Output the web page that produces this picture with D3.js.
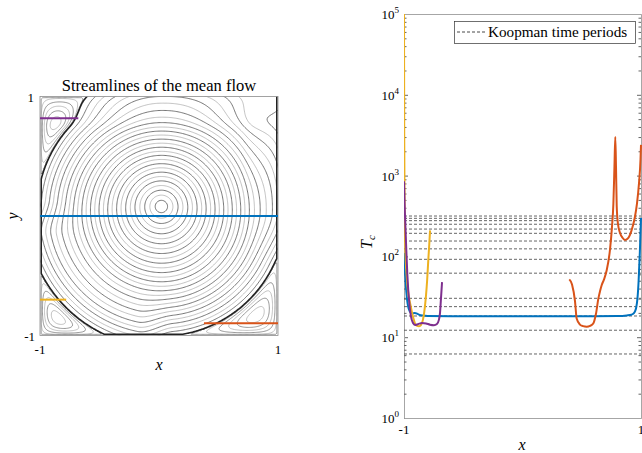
<!DOCTYPE html>
<html>
<head>
<meta charset="utf-8">
<script src="https://cdn.jsdelivr.net/npm/d3@7"></script>
<style>
body { margin: 0; background: #fff; }
text { font-family: "Liberation Serif", "Times New Roman", serif; fill: #000; }
</style>
</head>
<body>
<div id="container"></div>
<script>
// ---- right panel data: T_c along the four horizontal slices ----
var blueX = [-1, -0.995, -0.99, -0.985, -0.975, -0.965, -0.955, -0.945, -0.93, -0.91, -0.89, -0.87, -0.84, -0.8, -0.6, -0.4, -0.2, 0, 0.2, 0.4, 0.6, 0.8, 0.88, 0.92, 0.94, 0.95, 0.96, 0.97, 0.98, 0.99, 1.0];
var blueT = [110, 80, 60, 45, 30, 24, 21.5, 20.3, 19.8, 19.9, 19.6, 18.9, 18.5, 18.3, 18.2, 18.2, 18.2, 18.2, 18.2, 18.2, 18.2, 18.3, 18.6, 19.0, 19.8, 21, 23.5, 30, 50, 110, 300];

var redX = [0.395, 0.418, 0.443, 0.457, 0.485, 0.511, 0.542, 0.570, 0.597, 0.620, 0.640, 0.654, 0.668, 0.688, 0.711, 0.738, 0.755, 0.767, 0.776, 0.783, 0.789, 0.795, 0.806, 0.823, 0.844, 0.865, 0.886, 0.907, 0.928, 0.949, 0.966, 0.983, 0.996, 1.0];
var redT = [52, 45, 28, 17, 14.3, 13.7, 13.5, 13.8, 14.8, 19.5, 30, 37, 44, 52, 68, 120, 230, 450, 1300, 3000, 1300, 420, 250, 195, 170, 160, 165, 185, 230, 310, 450, 800, 1600, 2400];

var yellowX = [-1, -0.998, -0.995, -0.99, -0.98, -0.97, -0.96, -0.95, -0.935, -0.92, -0.905, -0.89, -0.875, -0.86, -0.85, -0.84, -0.83, -0.815, -0.805, -0.795, -0.787, -0.78];
var yellowT = [100000, 3000, 500, 150, 65, 42, 32, 27, 21, 17, 14.5, 13.8, 13.7, 14, 14.8, 16.5, 20, 32, 50, 90, 140, 210];

var purpleX = [-1, -0.996, -0.992, -0.983, -0.972, -0.955, -0.941, -0.924, -0.907, -0.882, -0.848, -0.814, -0.781, -0.747, -0.722, -0.705, -0.696, -0.688, -0.679];
var purpleT = [850, 500, 330, 150, 60, 26, 18, 15, 14.2, 14.5, 15, 14.8, 14.3, 14.1, 14.6, 16.5, 20, 30, 48];

// Koopman time periods (dashed lines)
var koopmanPeriods = [316, 296, 277, 250, 218, 193, 155, 124, 92, 62, 30.3, 23.9, 18.3, 12.2, 6.2];
var decades = [1, 10, 100, 1000, 10000, 100000];
var decadeExp = ["0", "1", "2", "3", "4", "5"];

// ---- left panel data: slice positions and stream-function levels ----
var sliceY  = [0, -0.898, -0.70, 0.819];
var sliceX0 = [-1, 0.378, -1, -1];
var sliceX1 = [1, 1, -0.78, -0.678];
var meanLevels = [0.052, 0.097, 0.140, 0.181, 0.222, 0.261, 0.300, 0.339, 0.376, 0.414, 0.451, 0.487, 0.524,
                  0.560, 0.596, 0.632, 0.667, 0.702, 0.737, 0.772, 0.807, 0.841, 0.876, 0.910, 0.944, 0.978, 1.011];
var sepLevel = 1.045;
var eddyLevels = [0.02, 0.12, 0.3, 0.5, 0.7, 0.9];

var colors = ["#0072BD", "#D95319", "#EDB120", "#7E2F8E"];

var width = 642, height = 453;
var svg = d3.select("#container").append("svg")
    .attr("width", width).attr("height", height);

// ================= left panel =================
var xL = d3.scaleLinear().domain([-1, 1]).range([40, 278]);
var yL = d3.scaleLinear().domain([-1, 1]).range([335.5, 96.5]);

function smooth(a, b, t) {
    t = Math.max(0, Math.min(1, (t - a) / (b - a)));
    return t * t * (3 - 2 * t);
}
// model of the mean-flow stream function (primary vortex, flattened against lid and walls)
function meanPsi(x, y) {
    var r0 = Math.hypot(x - 0.02, y - 0.06);
    var cy = 0.08 - 0.04 * smooth(0, 0.8, r0);
    var u = x - 0.02, v = y - cy;
    var r = Math.hypot(u, v);
    var up = Math.max(0, u), vp = Math.max(0, v);
    var fac = 1 - 0.14 * Math.pow(up * vp, 1.5)
                - 0.092 * smooth(0.7, 1.0, v)
                - 0.07 * smooth(0.7, 1.0, u) * smooth(-0.45, 0, v)
                - 0.08 * smooth(0.6, 1.0, r) * smooth(-0.1, 0.2, -u) * smooth(-0.1, 0.2, -v);
    return r * fac;
}

var N = 241, g0 = -1.2, step = 0.01;
var psi = new Array(N * N), sepField = new Array(N * N), eddy = new Array(N * N), quad = new Array(N * N);
var qmax = [1e-9, 1e-9, 1e-9, 1e-9];
for (var j = 0; j < N; j++) {
    for (var i = 0; i < N; i++) {
        var x = g0 + i * step, y = -g0 - j * step;
        var f = meanPsi(x, y);
        psi[j * N + i] = f;
        // the dividing streamline follows the side walls and the floor
        sepField[j * N + i] = (Math.abs(x) > 0.995 || y < -0.995) ? 9 : f;
        var e = -1;
        if (Math.abs(x) < 1 && Math.abs(y) < 1 && f > sepLevel) {
            e = (f - sepLevel) * (1 - x * x) * (1 - y * y);
        }
        var q = (x < 0 ? 0 : 1) + (y < 0 ? 0 : 2);
        quad[j * N + i] = q;
        eddy[j * N + i] = e;
        if (e > qmax[q]) qmax[q] = e;
    }
}
for (var k = 0; k < N * N; k++) if (eddy[k] > 0) eddy[k] /= qmax[quad[k]];

var gridPath = d3.geoPath(d3.geoTransform({
    point: function(px, py) {
        this.stream.point(xL(g0 + (px - 0.5) * step), yL(-g0 - (py - 0.5) * step));
    }
}));

svg.append("clipPath").attr("id", "boxL").append("rect")
    .attr("x", xL(-1)).attr("y", yL(1))
    .attr("width", xL(1) - xL(-1)).attr("height", yL(-1) - yL(1));

var gL = svg.append("g").attr("clip-path", "url(#boxL)");

gL.selectAll("path.mean")
    .data(d3.contours().size([N, N]).thresholds(meanLevels)(psi))
    .enter().append("path")
    .attr("class", "mean")
    .attr("d", gridPath)
    .attr("fill", "none")
    .attr("stroke", function(d, i) { return i % 2 ? "#9a9a9a" : "#4a4a4a"; })
    .attr("stroke-width", function(d, i) { return i % 2 ? 0.6 : 0.75; });

gL.selectAll("path.eddy")
    .data(d3.contours().size([N, N]).thresholds(eddyLevels)(eddy))
    .enter().append("path")
    .attr("class", "eddy")
    .attr("d", gridPath)
    .attr("fill", "none")
    .attr("stroke", function(d, i) { return i % 2 ? "#9a9a9a" : "#555"; })
    .attr("stroke-width", 0.6);

gL.append("path")
    .datum(d3.contours().size([N, N]).thresholds([sepLevel])(sepField)[0])
    .attr("d", gridPath)
    .attr("fill", "none")
    .attr("stroke", "#222")
    .attr("stroke-width", 1.6);

svg.append("rect")
    .attr("x", xL(-1)).attr("y", yL(1))
    .attr("width", xL(1) - xL(-1)).attr("height", yL(-1) - yL(1))
    .attr("fill", "none").attr("stroke", "#8c8c8c").attr("stroke-width", 0.8);

// coloured slices
svg.selectAll("line.slice")
    .data(sliceY)
    .enter().append("line")
    .attr("class", "slice")
    .attr("x1", function(d, i) { return xL(sliceX0[i]); })
    .attr("x2", function(d, i) { return xL(sliceX1[i]); })
    .attr("y1", function(d) { return yL(d); })
    .attr("y2", function(d) { return yL(d); })
    .attr("stroke", function(d, i) { return colors[i]; })
    .attr("stroke-width", 2);

svg.append("text").attr("x", (xL(-1) + xL(1)) / 2).attr("y", 91)
    .attr("text-anchor", "middle").attr("font-size", 16.5)
    .text("Streamlines of the mean flow");
svg.append("text").attr("x", 34).attr("y", yL(1) + 5).attr("text-anchor", "end")
    .attr("font-size", 13).text("1");
svg.append("text").attr("x", 35).attr("y", yL(-1) + 5).attr("text-anchor", "end")
    .attr("font-size", 13).text("-1");
svg.append("text").attr("x", xL(-1)).attr("y", 354).attr("text-anchor", "middle")
    .attr("font-size", 13).text("-1");
svg.append("text").attr("x", xL(1)).attr("y", 354).attr("text-anchor", "middle")
    .attr("font-size", 13).text("1");
svg.append("text").attr("x", (xL(-1) + xL(1)) / 2).attr("y", 370)
    .attr("text-anchor", "middle").attr("font-size", 16).attr("font-style", "italic").text("x");
svg.append("text").attr("transform", "translate(18," + yL(0) + ") rotate(-90)")
    .attr("text-anchor", "middle").attr("font-size", 16).attr("font-style", "italic").text("y");

// ================= right panel =================
var xR = d3.scaleLinear().domain([-1, 1]).range([404, 641]);
var yR = d3.scaleLog().domain([1, 1e5]).range([418, 14]);

var minor = [];
decades.slice(0, -1).forEach(function(d) {
    for (var m = 2; m < 10; m++) minor.push(d * m);
});

function styleAxis(g) {
    g.select(".domain").attr("stroke", "#a6a6a6");
    g.selectAll(".tick line").attr("stroke", "#666");
}
svg.append("g").attr("transform", "translate(" + xR(-1) + ",0)")
    .call(d3.axisLeft(yR).tickValues(decades).tickSize(-4).tickSizeOuter(0).tickFormat(""))
    .call(styleAxis);
svg.append("g").attr("transform", "translate(" + xR(-1) + ",0)")
    .call(d3.axisLeft(yR).tickValues(minor).tickSize(-2.5).tickSizeOuter(0).tickFormat(""))
    .call(styleAxis);
svg.append("g").attr("transform", "translate(" + xR(1) + ",0)")
    .call(d3.axisRight(yR).tickValues(decades).tickSize(-4).tickSizeOuter(0).tickFormat(""))
    .call(styleAxis);
svg.append("g").attr("transform", "translate(" + xR(1) + ",0)")
    .call(d3.axisRight(yR).tickValues(minor).tickSize(-2.5).tickSizeOuter(0).tickFormat(""))
    .call(styleAxis);
svg.append("g").attr("transform", "translate(0," + yR(1) + ")")
    .call(d3.axisBottom(xR).tickValues([-1, 1]).tickSize(0).tickSizeOuter(0).tickFormat(""))
    .call(styleAxis);
svg.append("g").attr("transform", "translate(0," + yR(1e5) + ")")
    .call(d3.axisTop(xR).tickValues([]).tickSizeOuter(0))
    .call(styleAxis);

// decade labels 10^k
var lab = svg.selectAll("text.ylab").data(decades).enter().append("text")
    .attr("class", "ylab")
    .attr("x", 399).attr("y", function(d) { return yR(d) + 5; })
    .attr("text-anchor", "end").attr("font-size", 13);
lab.append("tspan").text("10");
lab.append("tspan").attr("dy", -6).attr("font-size", 9).text(function(d, i) { return decadeExp[i]; });

svg.append("text").attr("x", xR(-1)).attr("y", 434).attr("text-anchor", "middle")
    .attr("font-size", 13).text("-1");
svg.append("text").attr("x", xR(1)).attr("y", 434).attr("text-anchor", "middle")
    .attr("font-size", 13).text("1");
svg.append("text").attr("x", 522).attr("y", 450).attr("text-anchor", "middle")
    .attr("font-size", 16).attr("font-style", "italic").text("x");
var tl = svg.append("text").attr("transform", "translate(372,242) rotate(-90)")
    .attr("text-anchor", "middle").attr("font-size", 16).attr("font-style", "italic");
tl.append("tspan").text("T");
tl.append("tspan").attr("dy", 3).attr("font-size", 11).text("c");

svg.append("clipPath").attr("id", "boxR").append("rect")
    .attr("x", xR(-1)).attr("y", yR(1e5) - 1)
    .attr("width", xR(1) - xR(-1) + 1).attr("height", yR(1) - yR(1e5) + 1);

var gR = svg.append("g").attr("clip-path", "url(#boxR)");

gR.selectAll("line.kp")
    .data(koopmanPeriods)
    .enter().append("line")
    .attr("class", "kp")
    .attr("x1", xR(-1)).attr("x2", xR(1))
    .attr("y1", function(d) { return yR(d); })
    .attr("y2", function(d) { return yR(d); })
    .attr("stroke", "#555").attr("stroke-width", 0.9)
    .attr("stroke-dasharray", "3,2");

var line = d3.line()
    .x(function(d) { return xR(d[0]); })
    .y(function(d) { return yR(d[1]); })
    .curve(d3.curveMonotoneX);

var series = [d3.zip(blueX, blueT), d3.zip(redX, redT), d3.zip(yellowX, yellowT), d3.zip(purpleX, purpleT)];
gR.selectAll("path.curve")
    .data(series)
    .enter().append("path")
    .attr("class", "curve")
    .attr("d", line)
    .attr("fill", "none")
    .attr("stroke", function(d, i) { return colors[i]; })
    .attr("stroke-width", 2);

// legend
var leg = svg.append("g");
leg.append("rect").attr("x", 454.5).attr("y", 21.5).attr("width", 181).attr("height", 22)
    .attr("fill", "#fff").attr("stroke", "#333").attr("stroke-width", 0.7);
leg.append("line").attr("x1", 457).attr("x2", 486).attr("y1", 32).attr("y2", 32)
    .attr("stroke", "#333").attr("stroke-width", 0.9).attr("stroke-dasharray", "3,2");
leg.append("text").attr("x", 488).attr("y", 37).attr("font-size", 15.2).text("Koopman time periods");
</script>
</body>
</html>
